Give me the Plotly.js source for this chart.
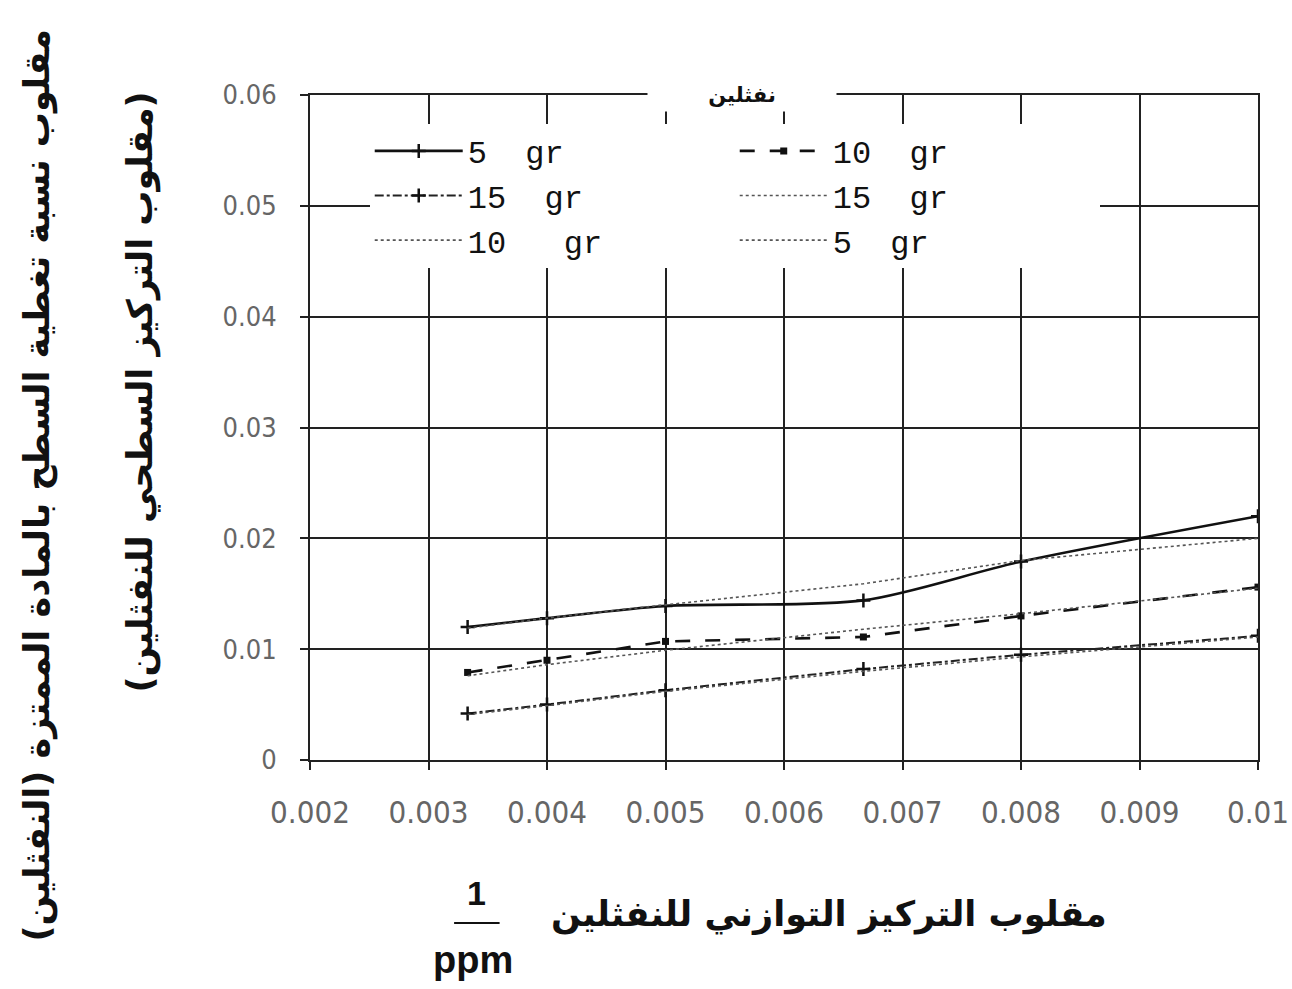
<!DOCTYPE html>
<html>
<head>
<meta charset="utf-8">
<script src="https://cdn.plot.ly/plotly-3.0.1.min.js"></script>
<style>html,body{margin:0;padding:0;background:#fff;}#chart{width:1292px;height:989px;}</style>
</head>
<body>
<div id="chart"></div>
<script>
// 1/C (1/ppm)
const invConc = [0.00333, 0.004, 0.005, 0.00667, 0.008, 0.01];

// measured series
const y5grExp  = [0.0120, 0.0128, 0.0139, 0.0144, 0.0179, 0.0220];
const y10grExp = [0.0079, 0.0090, 0.0107, 0.0111, 0.0130, 0.0156];
const y15grExp = [0.0042, 0.0050, 0.0063, 0.0082, 0.0095, 0.0112];
// fitted (dotted) series
const y15grFit = [0.0041, 0.0049, 0.0062, 0.0080, 0.0093, 0.0111];
const y10grFit = [0.0076, 0.0086, 0.0099, 0.0118, 0.0132, 0.0155];
const y5grFit  = [0.0119, 0.0128, 0.0140, 0.0159, 0.0180, 0.0200];

const names = ["5  gr", "10  gr", "15  gr", "15  gr", "10   gr", "5  gr"];

const xTickVals = [0.002, 0.003, 0.004, 0.005, 0.006, 0.007, 0.008, 0.009, 0.01];
const xTickText = ["0.002", "0.003", "0.004", "0.005", "0.006", "0.007", "0.008", "0.009", "0.01"];
const yTickVals = [0, 0.01, 0.02, 0.03, 0.04, 0.05, 0.06];
const yTickText = ["0", "0.01", "0.02", "0.03", "0.04", "0.05", "0.06"];

const legendTitle = "نفثلين";
const xTitle = "مقلوب التركيز التوازني للنفثلين";
const yTitle1 = "مقلوب نسبة تغطية السطح بالمادة الممتزة (النفثلين)";
const yTitle2 = "(مقلوب التركيز السطحي للنفثلين)";

const traces = [
  {x: invConc, y: y5grExp, name: names[0], mode: "lines+markers",
   line: {color: "#111", width: 2.6, dash: "solid", shape: "spline", smoothing: 0.8},
   marker: {symbol: "cross-thin", size: 10, line: {color: "#111", width: 2.5}}},
  {x: invConc, y: y10grExp, name: names[1], mode: "lines+markers",
   line: {color: "#111", width: 2.6, dash: "longdash"},
   marker: {symbol: "square", size: 7, color: "#111"}},
  {x: invConc, y: y15grExp, name: names[2], mode: "lines+markers",
   line: {color: "#222", width: 2, dash: "dashdot"},
   marker: {symbol: "cross-thin", size: 10, line: {color: "#111", width: 2.5}}},
  {x: invConc, y: y15grFit, name: names[3], mode: "lines",
   line: {color: "#555", width: 1.6, dash: "dot"}},
  {x: invConc, y: y10grFit, name: names[4], mode: "lines",
   line: {color: "#555", width: 1.6, dash: "dot"}},
  {x: invConc, y: y5grFit, name: names[5], mode: "lines",
   line: {color: "#555", width: 1.6, dash: "dot"}}
];

const tickFam = "DejaVu Sans Condensed, DejaVu Sans, sans-serif";
const arFam = "DejaVu Sans, Noto Sans, sans-serif";

const layout = {
  width: 1292, height: 989,
  paper_bgcolor: "#fff", plot_bgcolor: "#fff",
  margin: {l: 310, r: 34, t: 95, b: 229},
  showlegend: true,
  legend: {
    orientation: "h", x: 0.063, xanchor: "left", y: 0.957, yanchor: "top",
    bgcolor: "#fff", borderwidth: 0,
    font: {family: "Liberation Mono, DejaVu Sans Mono, monospace", size: 32, color: "#111"},
    itemwidth: 88, entrywidth: 262, tracegroupgap: 0, traceorder: "normal"
  },
  xaxis: {
    range: [0.002, 0.01], tickvals: xTickVals, ticktext: xTickText,
    showgrid: true, gridcolor: "#222", gridwidth: 2,
    showline: true, linecolor: "#222", linewidth: 2, mirror: true,
    ticks: "outside", ticklen: 8, tickcolor: "#222", tickwidth: 2,
    ticklabelstandoff: 16, tickfont: {family: tickFam, size: 31, color: "#666"}, zeroline: false
  },
  yaxis: {
    range: [0, 0.06], tickvals: yTickVals, ticktext: yTickText,
    showgrid: true, gridcolor: "#222", gridwidth: 2,
    showline: true, linecolor: "#222", linewidth: 2, mirror: true,
    ticks: "outside", ticklen: 8, tickcolor: "#222", tickwidth: 2,
    ticklabelstandoff: 18, tickfont: {family: tickFam, size: 27, color: "#666"}, zeroline: false
  },
  annotations: [
    {text: "<b>" + legendTitle + "</b>", xref: "paper", yref: "paper", x: 0.456, y: 1.0,
     xanchor: "center", yanchor: "middle", showarrow: false, bgcolor: "#fff", width: 186, height: 30,
     font: {family: arFam, size: 21, color: "#111"}},
    {text: "<b>" + xTitle + "</b>", xref: "paper", yref: "paper", x: 0.547, y: -0.233,
     xanchor: "center", yanchor: "middle", showarrow: false,
     font: {family: arFam, size: 35, color: "#111"}},
    {text: "<b>1</b>", xref: "paper", yref: "paper", x: 0.176, y: -0.2,
     xanchor: "center", yanchor: "middle", showarrow: false,
     font: {family: "Liberation Sans, Arial", size: 34, color: "#111"}},
    {text: "<b>ppm</b>", xref: "paper", yref: "paper", x: 0.172, y: -0.3,
     xanchor: "center", yanchor: "middle", showarrow: false,
     font: {family: "Liberation Sans, Arial", size: 38, color: "#111"}},
    {text: "<b>" + yTitle1 + "</b>", xref: "paper", yref: "paper", x: -0.287, y: 0.414,
     xanchor: "center", yanchor: "middle", showarrow: false, textangle: -90,
     font: {family: arFam, size: 35, color: "#111"}},
    {text: "<b>" + yTitle2 + "</b>", xref: "paper", yref: "paper", x: -0.179, y: 0.553,
     xanchor: "center", yanchor: "middle", showarrow: false, textangle: -90,
     font: {family: arFam, size: 35, color: "#111"}}
  ],
  shapes: [
    {type: "line", xref: "paper", yref: "paper", x0: 0.152, x1: 0.2, y0: -0.245, y1: -0.245,
     line: {color: "#111", width: 2}}
  ]
};

Plotly.newPlot("chart", traces, layout, {displayModeBar: false, staticPlot: true});
</script>
</body>
</html>
